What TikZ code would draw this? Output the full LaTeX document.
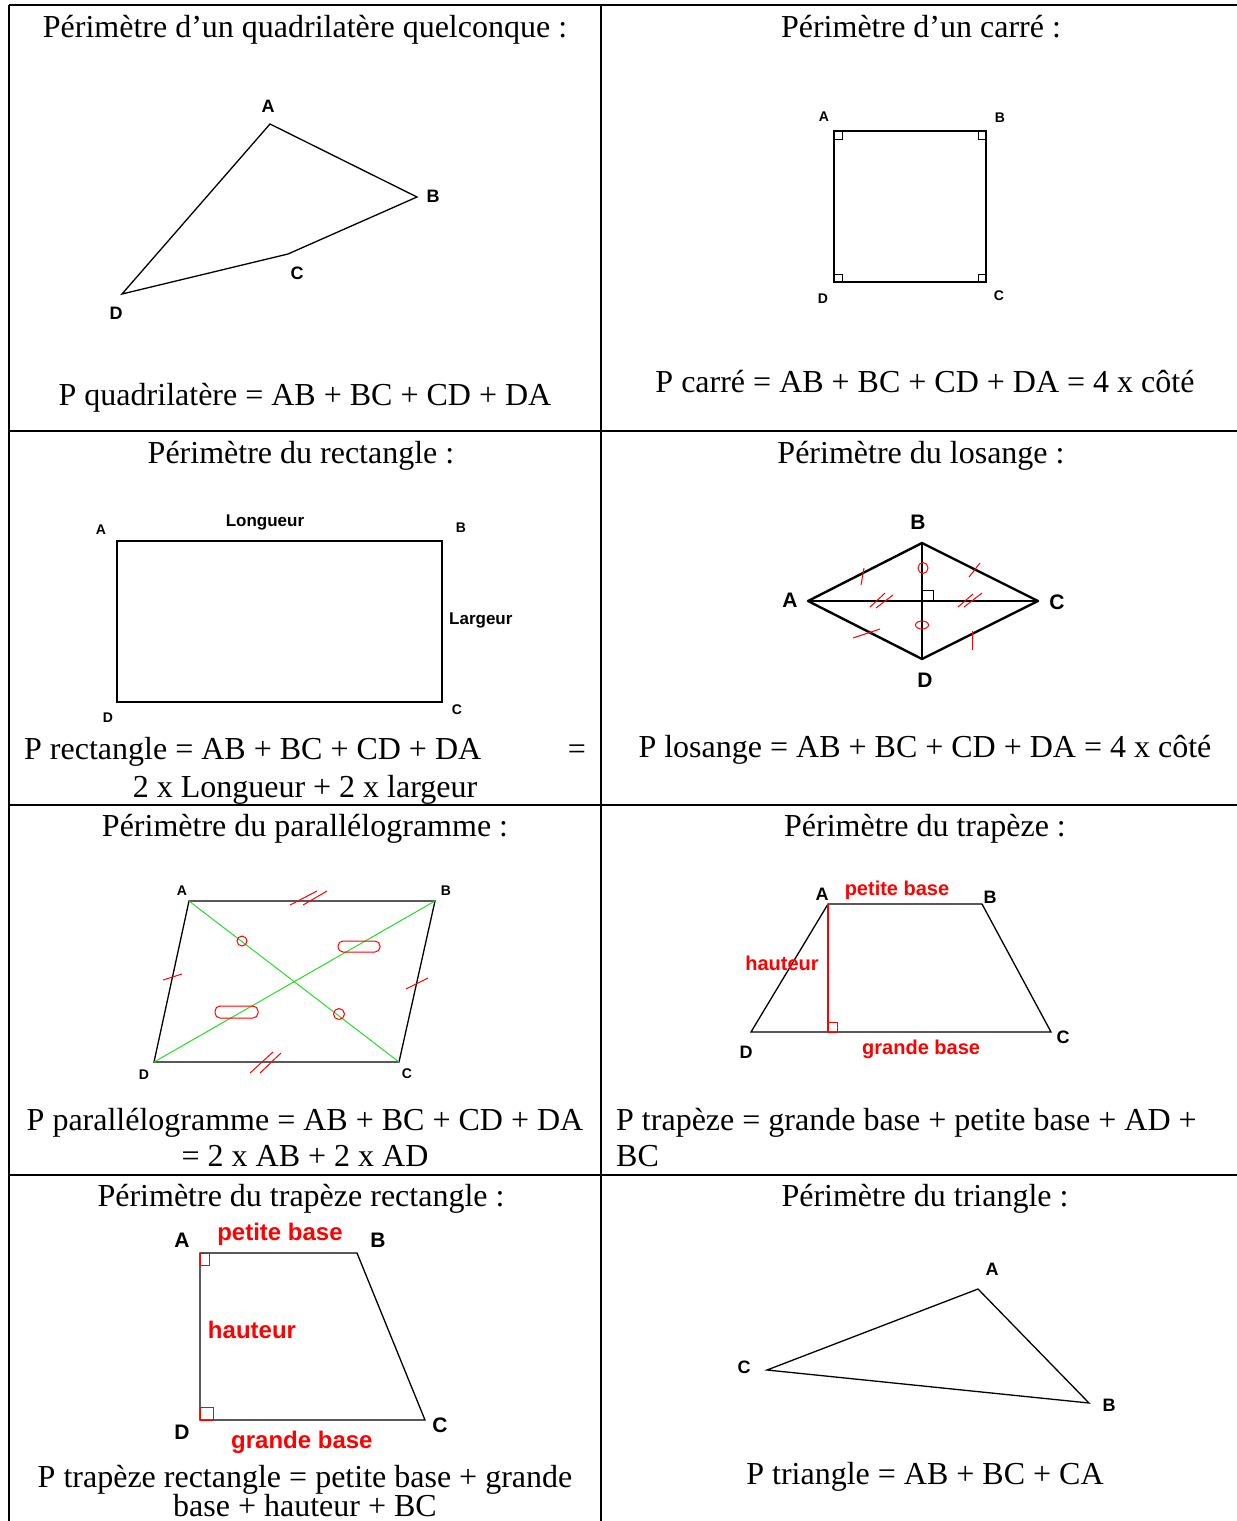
\documentclass[tikz,border=0pt]{standalone}
\usepackage{fontspec}
\setmainfont{Liberation Serif}
\newfontfamily\arial{Liberation Sans}
\begin{document}
\begin{tikzpicture}[x=1pt,y=-1pt,
  grid/.style={line width=2pt,black},
  txt/.style={font=\fontsize{32}{36}\selectfont,anchor=base,inner sep=0pt},
  txtl/.style={txt,anchor=base west},
  lbl/.style={font=\arial\bfseries\fontsize{18}{20}\selectfont,inner sep=0pt},
  lbls/.style={font=\arial\bfseries\fontsize{14}{16}\selectfont,inner sep=0pt},
  lblm/.style={font=\arial\bfseries\fontsize{17}{19}\selectfont,inner sep=0pt},
  lblb/.style={font=\arial\bfseries\fontsize{21}{23}\selectfont,inner sep=0pt},
  redlbl/.style={font=\arial\bfseries\fontsize{20}{22}\selectfont,text=red,inner sep=0pt},
  redlblb/.style={font=\arial\bfseries\fontsize{24}{26}\selectfont,text=red,inner sep=0pt},
  fig/.style={line width=1.3pt,black},
  figb/.style={line width=2.4pt,black},
  mk/.style={red,line width=1pt},
  lime/.style={line width=1pt,draw={rgb,255:red,40;green,220;blue,40}}
]
\useasboundingbox (0,0) rectangle (1237,1521);
\fill[white] (0,0) rectangle (1237,1521);
% ---------- table grid ----------
\coordinate (tl) at (9,5);
\coordinate (tr) at (1237,5);
\coordinate (bl) at (9,1521);
\coordinate (mt) at (601,5);
\coordinate (mb) at (601,1521);
\coordinate (r1l) at (9,431);   \coordinate (r1r) at (1237,431);
\coordinate (r2l) at (9,805);   \coordinate (r2r) at (1237,805);
\coordinate (r3l) at (9,1175);  \coordinate (r3r) at (1237,1175);
\draw[grid] (tl) -- (tr);
\draw[grid] (tl) -- (bl);
\draw[grid] (mt) -- (mb);
\draw[grid] (r1l) -- (r1r);
\draw[grid] (r2l) -- (r2r);
\draw[grid] (r3l) -- (r3r);
% ---------- texts ----------
\node[txt] (t1) at (305,37) {Périmètre d’un quadrilatère quelconque :};
\node[txt] (f1) at (305,405) {P quadrilatère = AB + BC + CD + DA};
\node[txt] (t2) at (921,37) {Périmètre d’un carré :};
\node[txt] (f2) at (925,392) {P carré = AB + BC + CD + DA = 4 x côté};
\node[txt] (t3) at (301,463) {Périmètre du rectangle :};
\node[txtl] (f3a) at (24,759) {P rectangle = AB + BC + CD + DA};
\node[txt] (f3eq) at (577,759) {=};
\node[txt] (f3b) at (305,797) {2 x Longueur + 2 x largeur};
\node[txt] (t4) at (921,463) {Périmètre du losange :};
\node[txt] (f4) at (925,757) {P losange = AB + BC + CD + DA = 4 x côté};
\node[txt] (t5) at (305,836) {Périmètre du parallélogramme :};
\node[txt] (f5a) at (305,1130) {P parallélogramme = AB + BC + CD + DA};
\node[txt] (f5b) at (305,1166) {= 2 x AB + 2 x AD};
\node[txt] (t6) at (925,836) {Périmètre du trapèze :};
\node[txtl] (f6a) at (616,1130) {P trapèze = grande base + petite base + AD +};
\node[txtl] (f6b) at (616,1166) {BC};
\node[txt] (t7) at (301,1206) {Périmètre du trapèze rectangle :};
\node[txt] (f7a) at (305,1487) {P trapèze rectangle = petite base + grande};
\node[txt] (f7b) at (305,1516) {base + hauteur + BC};
\node[txt] (t8) at (925,1206) {Périmètre du triangle :};
\node[txt] (f8) at (925,1484) {P triangle = AB + BC + CA};
% ---------- quadrilatère ----------
\coordinate (qA) at (270,124);
\coordinate (qB) at (417,197);
\coordinate (qC) at (288,254);
\coordinate (qD) at (122,294);
\draw[fig] (qA) -- (qB) -- (qC) -- (qD) -- cycle;
\node[lbl] (qlA) at (268,106) {A};
\node[lbl] (qlB) at (433,196) {B};
\node[lbl] (qlC) at (297,273) {C};
\node[lbl] (qlD) at (116,313) {D};
% ---------- carré ----------
\coordinate (sA) at (834,131);
\coordinate (sB) at (986,131);
\coordinate (sC) at (986,282);
\coordinate (sD) at (834,282);
\draw[fig] (sA) -- (sB) -- (sC) -- (sD) -- cycle;
\draw[line width=1pt] (sA) rectangle ++(8,8);
\draw[line width=1pt] (sB) rectangle ++(-8,8);
\draw[line width=1pt] (sC) rectangle ++(-8,-8);
\draw[line width=1pt] (sD) rectangle ++(8,-8);
\node[lbls] (slA) at (824,117) {A};
\node[lbls] (slB) at (1000,118) {B};
\node[lbls] (slC) at (999,296) {C};
\node[lbls] (slD) at (823,299) {D};
% ---------- rectangle ----------
\coordinate (rA) at (117,541);
\coordinate (rB) at (442,541);
\coordinate (rC) at (442,702);
\coordinate (rD) at (117,702);
\draw[fig] (rA) -- (rB) -- (rC) -- (rD) -- cycle;
\node[lbls] (rlA) at (101,530) {A};
\node[lbls] (rlB) at (461,528) {B};
\node[lbls] (rlC) at (457,710) {C};
\node[lbls] (rlD) at (108,718) {D};
\node[lblm] (rlL) at (265,522) {Longueur};
\node[lblm,anchor=west] (rll) at (449,620) {Largeur};
% ---------- losange ----------
\coordinate (lA) at (808,601);
\coordinate (lB) at (922,543);
\coordinate (lC) at (1038,601);
\coordinate (lD) at (922,659);
\coordinate (lO) at (922,601);
\draw[line width=1.5pt] (lA) -- (lC);
\draw[line width=1.5pt] (lB) -- (lD);
\draw[line width=1pt] (lO) ++(0,-11) -- ++(11,0) -- ++(0,11);
\draw[figb,line join=round] (lA) -- (lB) -- (lC) -- (lD) -- cycle;
\draw[mk] (864,568) -- (861,585);
\draw[mk] (980,563) -- (969,577);
\draw[mk] (853,638) -- (880,629);
\draw[mk] (972,631) -- (972,650);
\draw[mk] (870,607) -- (885,593);
\draw[mk] (876,608) -- (893,595);
\draw[mk] (958,607) -- (973,594);
\draw[mk] (964,607) -- (982,593);
\draw[mk] (923,568) ellipse [x radius=5, y radius=5.5];
\draw[mk] (922,625) ellipse [x radius=6.5, y radius=4];
\node[lblb] (llA) at (790,600) {A};
\node[lblb] (llB) at (918,522) {B};
\node[lblb] (llC) at (1057,602) {C};
\node[lblb] (llD) at (925,680) {D};
% ---------- parallélogramme ----------
\coordinate (pA) at (189,901);
\coordinate (pB) at (435,901);
\coordinate (pC) at (399,1062);
\coordinate (pD) at (154,1062);
\draw[fig] (pA) -- (pB) -- (pC) -- (pD) -- cycle;
\draw[lime] (pA) -- (pC);
\draw[lime] (pB) -- (pD);
\draw[mk] (290,905) -- (317,891);
\draw[mk] (303,905) -- (327,891);
\draw[mk] (250,1073) -- (273,1052);
\draw[mk] (260,1073) -- (281,1053);
\draw[mk] (163,980) -- (182,974);
\draw[mk] (406,989) -- (428,978);
\draw[mk] (242,941) circle [radius=5];
\draw[mk] (339,1014) circle [radius=5.5];
\draw[mk,rounded corners=5] (338,941) rectangle (380,952);
\draw[mk,rounded corners=5] (215,1006) rectangle (258,1018);
\node[lbls] (plA) at (182,891) {A};
\node[lbls] (plB) at (446,891) {B};
\node[lbls] (plC) at (407,1074) {C};
\node[lbls] (plD) at (144,1075) {D};
% ---------- trapèze ----------
\coordinate (zA) at (828,904);
\coordinate (zB) at (982,904);
\coordinate (zC) at (1051,1032);
\coordinate (zD) at (751,1032);
\coordinate (zH) at (828,1032);
\draw[fig] (zA) -- (zB) -- (zC) -- (zD) -- cycle;
\draw[red,line width=1.5pt] (zA) -- (zH);
\draw[red,line width=1pt] (zH) rectangle ++(9,-10);
\node[lbl] (zlA) at (822,894) {A};
\node[lbl] (zlB) at (990,897) {B};
\node[lbl] (zlC) at (1063,1037) {C};
\node[lbl] (zlD) at (746,1052) {D};
\node[redlbl] (zpb) at (897,890) {petite base};
\node[redlbl] (zh) at (782,963) {hauteur};
\node[redlbl,anchor=west] (zgb) at (862,1049) {grande base};
% ---------- trapèze rectangle ----------
\coordinate (yA) at (200,1253);
\coordinate (yB) at (357,1253);
\coordinate (yC) at (425,1420);
\coordinate (yD) at (200,1420);
\draw[fig] (yA) -- (yB) -- (yC) -- (yD) -- cycle;
\draw[red,line width=1pt] (yA) rectangle ++(9,12);
\draw[red,line width=1pt] (yD) rectangle ++(13,-13);
\node[lblb] (ylA) at (182,1240) {A};
\node[lblb] (ylB) at (378,1240) {B};
\node[lblb] (ylC) at (440,1425) {C};
\node[lblb] (ylD) at (182,1432) {D};
\node[redlblb] (ypb) at (280,1234) {petite base};
\node[redlblb] (yh) at (252,1330) {hauteur};
\node[redlblb,anchor=west] (ygb) at (231,1442) {grande base};
% ---------- triangle ----------
\coordinate (tA) at (978,1289);
\coordinate (tB) at (1089,1403);
\coordinate (tC) at (767,1370);
\draw[fig] (tA) -- (tB) -- (tC) -- cycle;
\node[lbl] (tlA) at (992,1269) {A};
\node[lbl] (tlB) at (1109,1405) {B};
\node[lbl] (tlC) at (744,1367) {C};
\end{tikzpicture}
\end{document}
